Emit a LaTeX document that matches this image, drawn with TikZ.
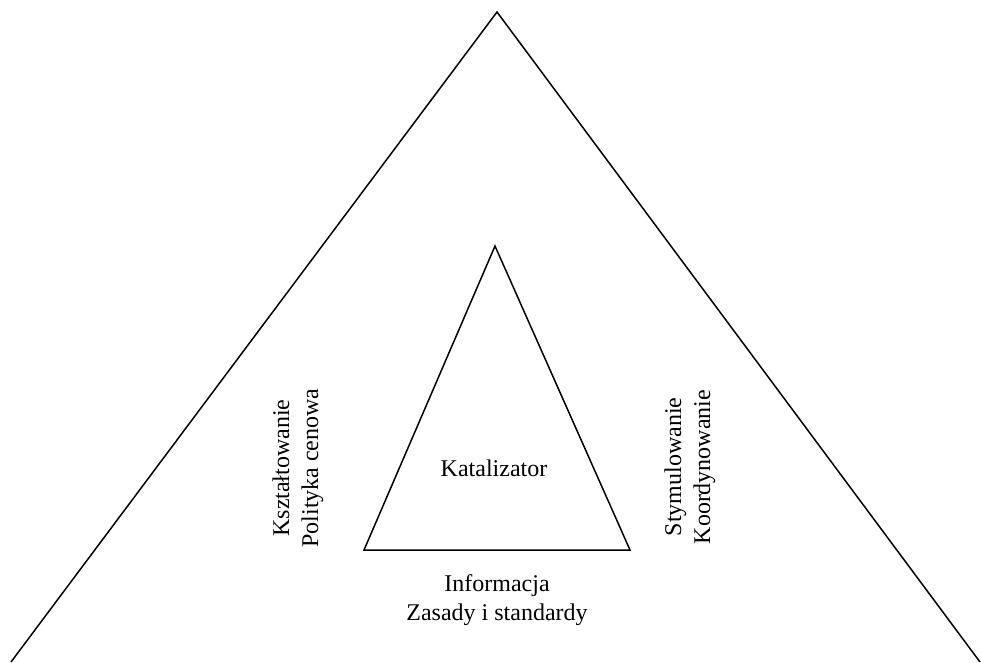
\documentclass[tikz,border=0pt]{standalone}
\usepackage{fontspec}
\setmainfont{Liberation Serif}
\begin{document}
\begin{tikzpicture}[x=1pt,y=-1pt]

	\tikzstyle{linia} = [line width=1.5pt,line join=miter]
	\tikzstyle{napis} = [align=center,inner sep=0pt,font=\fontsize{24}{29}\selectfont]
	\tikzstyle{bok} = [napis,rotate=90]

	\useasboundingbox (0,0) rectangle (981,662);

	\coordinate (wg) at (497,12);
	\coordinate (wl) at (11,662);
	\coordinate (wp) at (980,662);
	\coordinate (mg) at (495,246);
	\coordinate (ml) at (364,550);
	\coordinate (mp) at (630,550);

	\draw[linia] (wl) -- (wg) -- (wp);
	\draw[linia] (mg) -- (ml) -- (mp) -- cycle;

	\node[napis] (k) at (494,468) {Katalizator};
	\node[napis] (i) at (497,600) {Informacja\\Zasady i standardy};
	\node[bok] (l) at (298,468) {Kształtowanie\\Polityka cenowa};
	\node[bok] (r) at (690,467) {Stymulowanie\\Koordynowanie};

\end{tikzpicture}
\end{document}
